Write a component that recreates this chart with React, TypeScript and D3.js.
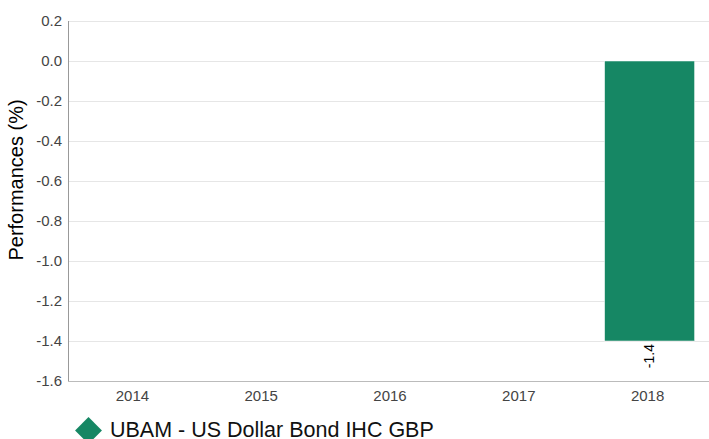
import React, { useEffect, useRef } from "react";
import * as d3 from "d3";

const years = ["2014", "2015", "2016", "2017", "2018"];
const performances: (number | null)[] = [null, null, null, null, -1.4];
const yTicks = [0.2, 0.0, -0.2, -0.4, -0.6, -0.8, -1.0, -1.2, -1.4, -1.6];
const seriesName = "UBAM - US Dollar Bond IHC GBP";
const seriesColor = "#168764";

export const PerfChart = () => {
  const ref = useRef<HTMLDivElement>(null);

  useEffect(() => {
    if (!ref.current) return;
    const width = 709;
    const height = 439;
    const margin = { top: 21, right: -3, bottom: 58, left: 68 };
    const font = "'Liberation Sans', Arial, sans-serif";

    d3.select(ref.current).selectAll("*").remove();

    const svg = d3
      .select(ref.current)
      .append("svg")
      .attr("width", width)
      .attr("height", height)
      .style("display", "block")
      .style("font-family", font);

    const x = d3
      .scaleBand()
      .domain(years)
      .range([margin.left, width - margin.right]);

    const y = d3
      .scaleLinear()
      .domain([-1.6, 0.2])
      .range([height - margin.bottom, margin.top]);

    // grid lines
    svg
      .append("g")
      .selectAll("line")
      .data(yTicks)
      .join("line")
      .attr("x1", margin.left)
      .attr("x2", width)
      .attr("y1", (d) => Math.round(y(d)) + 0.5)
      .attr("y2", (d) => Math.round(y(d)) + 0.5)
      .attr("stroke", "#e6e6e6");

    // y tick labels
    svg
      .append("g")
      .selectAll("text")
      .data(yTicks)
      .join("text")
      .attr("x", margin.left - 6)
      .attr("y", (d) => y(d) + 5)
      .attr("text-anchor", "end")
      .style("font-size", "15px")
      .style("fill", "#444")
      .text((d) => d3.format(".1f")(d).replace("−", "-"));

    // axis lines
    svg
      .append("line")
      .attr("x1", margin.left + 0.5)
      .attr("x2", margin.left + 0.5)
      .attr("y1", margin.top)
      .attr("y2", height - margin.bottom)
      .attr("stroke", "#999");
    svg
      .append("line")
      .attr("x1", margin.left)
      .attr("x2", width)
      .attr("y1", Math.round(y(-1.6)) + 0.5)
      .attr("y2", Math.round(y(-1.6)) + 0.5)
      .attr("stroke", "#bbb");

    // x labels
    svg
      .append("g")
      .selectAll("text")
      .data(years)
      .join("text")
      .attr("x", (d) => x(d)! + x.bandwidth() / 2)
      .attr("y", height - margin.bottom + 20)
      .attr("text-anchor", "middle")
      .style("font-size", "15px")
      .style("fill", "#444")
      .text((d) => d);

    // y title
    svg
      .append("text")
      .attr("transform", `translate(23, 180) rotate(-90)`)
      .attr("text-anchor", "middle")
      .style("font-size", "20px")
      .style("fill", "#000")
      .text("Performances (%)");

    // bars
    const barW = 90;
    const data = years.map((yr, i) => ({ yr, v: performances[i] })).filter((d) => d.v !== null) as { yr: string; v: number }[];
    svg
      .append("g")
      .selectAll("rect")
      .data(data)
      .join("rect")
      .attr("x", (d) => x(d.yr)! + x.bandwidth() / 2 - barW / 2 + 2)
      .attr("width", barW)
      .attr("y", (d) => y(Math.max(0, d.v)))
      .attr("height", (d) => Math.abs(y(d.v) - y(0)))
      .attr("fill", seriesColor)
      .attr("stroke", "#fff")
      .attr("stroke-width", 0.5);

    // value labels
    svg
      .append("g")
      .selectAll("text")
      .data(data)
      .join("text")
      .attr("transform", (d) => `translate(${x(d.yr)! + x.bandwidth() / 2 + 6}, ${y(d.v) + 3}) rotate(-90)`)
      .attr("text-anchor", "end")
      .style("font-size", "14px")
      .style("fill", "#000")
      .text((d) => d3.format(".1f")(d.v).replace("−", "-"));

    // legend
    const lg = svg.append("g").attr("transform", "translate(88.5, 430.5)");
    lg.append("rect")
      .attr("x", -9.5)
      .attr("y", -9.5)
      .attr("width", 19)
      .attr("height", 19)
      .attr("transform", "rotate(45)")
      .attr("fill", seriesColor);
    lg.append("text")
      .attr("x", 21.5)
      .attr("y", 6.5)
      .style("font-size", "21.5px")
      .style("fill", "#111")
      .text(seriesName);
  }, []);

  return <div ref={ref}></div>;
};

export default function App() {
  return (
    <div style={{ position: "fixed", left: 0, top: 0, width: 709, height: 439, overflow: "hidden", background: "#fff" }}>
      <PerfChart />
    </div>
  );
}
